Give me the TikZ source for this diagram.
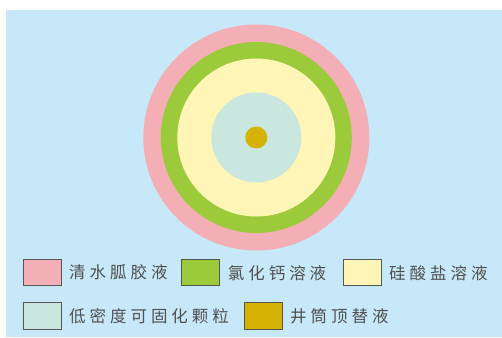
\documentclass[tikz,border=0pt]{standalone}
\usepackage{fontspec}
\newfontfamily\cjk[LetterSpace=24]{Noto Sans CJK SC}
\definecolor{bgblue}{HTML}{C6E8F8}
\definecolor{ringpink}{HTML}{F4AEB6}
\definecolor{ringgreen}{HTML}{9BCB3B}
\definecolor{ringyellow}{HTML}{FFF5B6}
\definecolor{ringteal}{HTML}{C9E6DF}
\definecolor{ringgold}{HTML}{D5B203}
\definecolor{txtgray}{HTML}{505050}
\definecolor{boxline}{HTML}{555555}
\tikzset{
  legbox/.style={draw=boxline, line width=1pt, minimum width=38pt, minimum height=26.5pt, inner sep=0pt},
  legtext/.style={anchor=west, inner sep=0pt, text=txtgray, font=\cjk\fontsize{16.5pt}{17pt}\selectfont},
}
\begin{document}
\begin{tikzpicture}[x=1pt,y=-1pt]
\useasboundingbox (0,0) rectangle (502,337);
\fill[white] (0,0) rectangle (502,337);
\fill[bgblue] (6,10) rectangle (502,337);
% concentric rings
\coordinate (c) at (256.3,137.5);
\fill[ringpink] (c) circle[radius=113pt];
\fill[ringgreen] (c) circle[radius=95.5pt];
\fill[ringyellow] (c) circle[radius=79pt];
\fill[ringteal] (c) circle[radius=45pt];
\fill[ringgold] (c) circle[radius=11pt];
% legend row 1
\node[legbox, fill=ringpink] (b1) at (42,272.7) {};
\node[legtext] (t1) at (69,272.7) {清水胍胶液};
\node[legbox, fill=ringgreen] (b2) at (200.5,272.7) {};
\node[legtext] (t2) at (227.7,272.7) {氯化钙溶液};
\node[legbox, fill=ringyellow] (b3) at (362.5,272.7) {};
\node[legtext] (t3) at (389,272.7) {硅酸盐溶液};
% legend row 2
\node[legbox, fill=ringteal] (b4) at (42,316) {};
\node[legtext] (t4) at (69,316) {低密度可固化颗粒};
\node[legbox, fill=ringgold] (b5) at (263.5,316) {};
\node[legtext] (t5) at (290,316) {井筒顶替液};
\end{tikzpicture}
\end{document}
